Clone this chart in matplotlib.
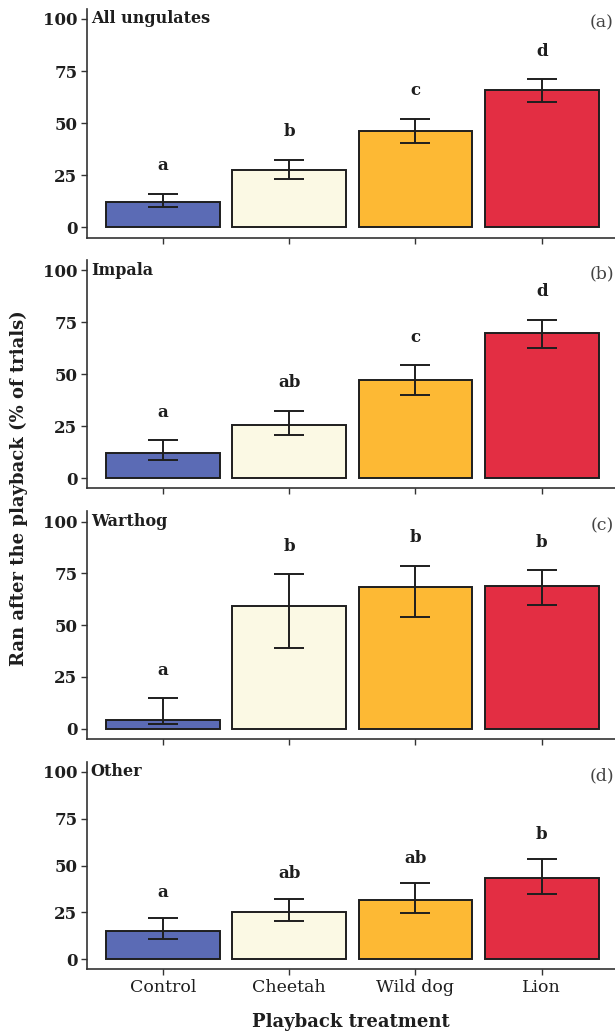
import numpy as np
import matplotlib.pyplot as plt

plt.rcParams['font.family'] = ['DejaVu Serif']

treatments = ['Control', 'Cheetah', 'Wild dog', 'Lion']
colors = ['#5b6bb5', '#fbf9e4', '#fdb934', '#e32e43']

panels = ['All ungulates', 'Impala', 'Warthog', 'Other']
tags = ['(a)', '(b)', '(c)', '(d)']

means = [
    [12.0, 27.5, 46.0, 66.0],
    [12.2, 25.6, 47.0, 69.7],
    [4.2, 59.3, 68.4, 69.1],
    [14.9, 25.0, 31.4, 43.3],
]
lower = [
    [9.5, 23.0, 40.5, 60.0],
    [8.8, 20.5, 40.1, 62.3],
    [2.4, 38.8, 54.1, 59.9],
    [11.0, 20.2, 24.9, 34.6],
]
upper = [
    [16.0, 32.5, 52.0, 71.0],
    [18.1, 32.4, 54.2, 76.0],
    [14.7, 74.7, 78.6, 76.5],
    [22.0, 32.0, 40.5, 53.3],
]
letters = [
    ['a', 'b', 'c', 'd'],
    ['a', 'ab', 'c', 'd'],
    ['a', 'b', 'b', 'b'],
    ['a', 'ab', 'ab', 'b'],
]

# axes boxes in figure fractions (left, bottom, width, height)
boxes = [
    (0.1415, 0.7697, 0.8585, 0.2220),
    (0.1415, 0.5267, 0.8585, 0.2217),
    (0.1415, 0.2839, 0.8585, 0.2207),
    (0.1415, 0.0613, 0.8585, 0.2000),
]

fig = plt.figure(figsize=(6.15, 10.32), dpi=100)
x = np.arange(1, 5)
ink = '#1e1e1e'

for i in range(4):
    ax = fig.add_axes(boxes[i])
    m = np.array(means[i])
    lo = np.array(lower[i])
    hi = np.array(upper[i])
    ax.bar(x, m, width=0.9, color=colors, edgecolor=ink, linewidth=1.4, zorder=2)
    ax.errorbar(x, m, yerr=[m - lo, hi - m], fmt='none', ecolor=ink,
                elinewidth=1.4, capsize=11, capthick=1.4, zorder=3)
    for j in range(4):
        ax.text(x[j], hi[j] + 13.5, letters[i][j], ha='center', va='center',
                fontsize=12, fontweight='bold', color=ink)
    ax.text(0.43, 100, panels[i], ha='left', va='center', fontsize=11.5,
            fontweight='bold', color=ink)
    ax.text(0.998, 98, tags[i], ha='right', va='center', fontsize=12.5,
            color='#444444', transform=ax.get_yaxis_transform())
    ax.set_xlim(0.4, 4.58)
    ax.set_ylim(-5, 105)
    ax.set_yticks([0, 25, 50, 75, 100])
    ax.set_xticks(x)
    for s in ['top', 'right']:
        ax.spines[s].set_visible(False)
    for s in ['left', 'bottom']:
        ax.spines[s].set_color('#333333')
        ax.spines[s].set_linewidth(1.2)
    ax.tick_params(axis='both', length=4, width=1.0, color='#333333')
    ax.tick_params(axis='y', labelsize=12, pad=3)
    for lab in ax.get_yticklabels():
        lab.set_fontweight('bold')
        lab.set_color(ink)
    if i == 3:
        ax.set_xticklabels(treatments, fontsize=12.5, color=ink)
        ax.set_xlabel('Playback treatment', fontsize=13, fontweight='bold',
                      color=ink, labelpad=12)
    else:
        ax.set_xticklabels([])

fig.text(0.03, 0.527, 'Ran after the playback (% of trials)', rotation=90,
         ha='center', va='center', fontsize=13, fontweight='bold', color=ink)

fig.savefig('out.png', dpi=100)
